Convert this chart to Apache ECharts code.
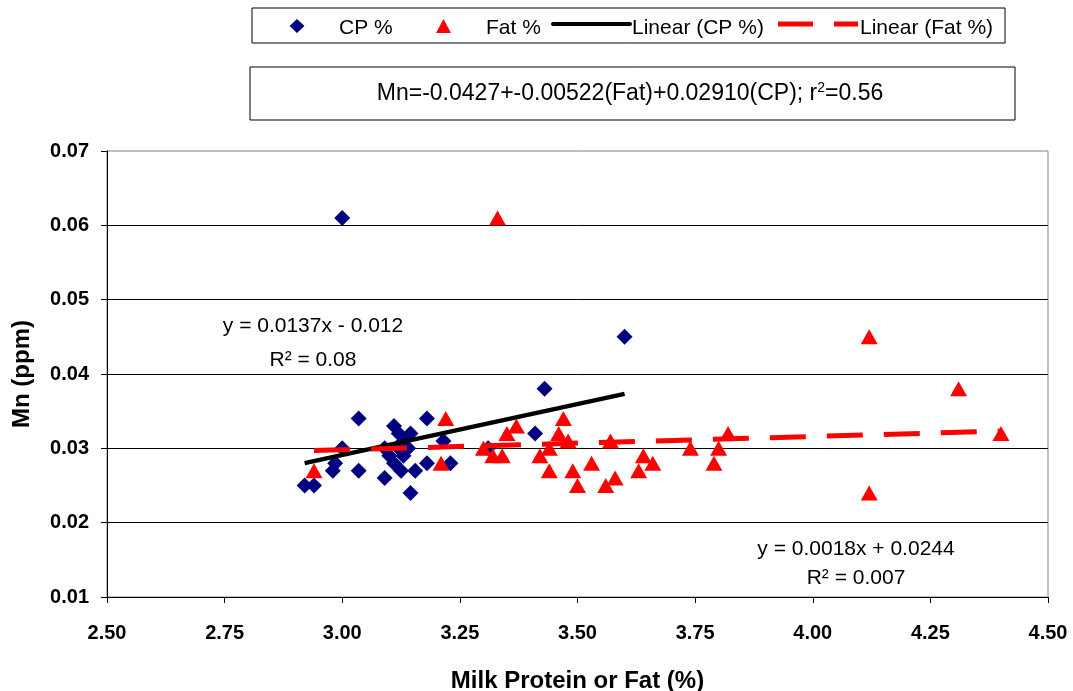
<!DOCTYPE html>
<html>
<head>
<meta charset="utf-8">
<script src="https://cdn.jsdelivr.net/npm/echarts@6/dist/echarts.min.js"></script>
<style>
  html, body { margin: 0; padding: 0; background: #fff; }
  #chart { width: 1073px; height: 691px; }
</style>
</head>
<body>
<div id="chart"></div>
<script>
/* Milk protein (CP %) vs Mn */
const cpPct = [3.00, 3.60, 3.43, 3.41, 2.92, 2.94, 2.98, 2.985, 3.00, 3.035, 3.035, 3.09, 3.10, 3.09, 3.11,
  3.12, 3.145, 3.13, 3.11, 3.13, 3.125, 3.155, 3.145, 3.18, 3.18, 3.215, 3.23, 3.31, 3.12, 3.14];
const cpMn = [0.061, 0.045, 0.038, 0.032, 0.025, 0.025, 0.027, 0.028, 0.030, 0.034, 0.027, 0.030, 0.029, 0.026, 0.033,
  0.032, 0.032, 0.031, 0.028, 0.029, 0.027, 0.027, 0.024, 0.034, 0.028, 0.031, 0.028, 0.030, 0.030, 0.030];

/* Milk fat (Fat %) vs Mn */
const fatPct = [3.33, 4.12, 4.31, 4.40, 4.12, 2.94, 3.22, 3.21, 3.30, 3.32, 3.34, 3.35, 3.37, 3.42, 3.44, 3.44,
  3.47, 3.46, 3.48, 3.49, 3.50, 3.53, 3.57, 3.56, 3.58, 3.64, 3.66, 3.63, 3.74, 3.82, 3.80, 3.79];
const fatMn = [0.061, 0.045, 0.038, 0.032, 0.024, 0.027, 0.034, 0.028, 0.030, 0.029, 0.029, 0.032, 0.033, 0.029, 0.030, 0.027,
  0.034, 0.032, 0.031, 0.027, 0.025, 0.028, 0.031, 0.025, 0.026, 0.029, 0.028, 0.027, 0.030, 0.032, 0.030, 0.028];

/* trendline coefficients [slope, intercept] */
const cpTrend = [0.0137, -0.012];
const fatTrend = [0.0018, 0.0244];

const xTicks = [2.50, 2.75, 3.00, 3.25, 3.50, 3.75, 4.00, 4.25, 4.50];
const yTicks = [0.01, 0.02, 0.03, 0.04, 0.05, 0.06, 0.07];

const FONT = '"Liberation Sans", Arial, sans-serif';

function zip(xs, ys) {
  return xs.map((x, i) => [x, ys[i]]);
}

function trendLine(xs, coef) {
  const lo = Math.min(...xs);
  const hi = Math.max(...xs);
  return [[lo, coef[0] * lo + coef[1]], [hi, coef[0] * hi + coef[1]]];
}

function label(x, y, text, size, align) {
  return {
    type: 'text', x: x, y: y, z: 10,
    style: { text: text, font: size + 'px ' + FONT, fill: '#000', align: align || 'left', verticalAlign: 'middle' }
  };
}

const chart = echarts.init(document.getElementById('chart'), null, { renderer: 'canvas' });

chart.setOption({
  backgroundColor: '#fff',
  animation: false,
  textStyle: { fontFamily: FONT },
  grid: {
    left: 107, right: 25, top: 151, bottom: 94,
    outerBoundsMode: 'none', containLabel: false,
    show: true, borderColor: '#808080', borderWidth: 1, backgroundColor: 'transparent'
  },
  xAxis: {
    type: 'value',
    min: xTicks[0], max: xTicks[xTicks.length - 1], interval: 0.25,
    name: 'Milk Protein or Fat (%)',
    nameLocation: 'middle', nameGap: 72,
    nameTextStyle: { fontFamily: FONT, fontSize: 24, fontWeight: 'bold', color: '#000' },
    axisLine: { show: true, lineStyle: { color: '#000', width: 1 } },
    axisTick: { show: true, length: 6, lineStyle: { color: '#000' } },
    axisLabel: {
      margin: 26, fontFamily: FONT, fontSize: 20, fontWeight: 'bold', color: '#000',
      formatter: (v) => v.toFixed(2)
    },
    splitLine: { show: false }
  },
  yAxis: {
    type: 'value',
    min: yTicks[0], max: yTicks[yTicks.length - 1], interval: 0.01,
    name: 'Mn (ppm)',
    nameLocation: 'middle', nameGap: 73,
    nameTextStyle: { fontFamily: FONT, fontSize: 24, fontWeight: 'bold', color: '#000' },
    axisLine: { show: true, lineStyle: { color: '#000', width: 1 } },
    axisTick: { show: true, length: 6, lineStyle: { color: '#000' } },
    axisLabel: {
      margin: 18, fontFamily: FONT, fontSize: 20, fontWeight: 'bold', color: '#000',
      formatter: (v) => v.toFixed(2)
    },
    splitLine: { show: true, showMinLine: false, showMaxLine: false, lineStyle: { color: '#000', width: 1 } }
  },
  series: [
    {
      name: 'CP %', type: 'scatter', symbol: 'diamond', symbolSize: [16, 16],
      itemStyle: { color: '#000080', opacity: 1 }, z: 2,
      data: zip(cpPct, cpMn)
    },
    {
      name: 'Fat %', type: 'scatter', symbol: 'triangle', symbolSize: [17, 15],
      itemStyle: { color: '#ff0000', opacity: 1 }, z: 3,
      data: zip(fatPct, fatMn)
    },
    {
      name: 'Linear (CP %)', type: 'line', showSymbol: false, symbol: 'none', z: 5,
      lineStyle: { color: '#000', width: 4.5 },
      data: trendLine(cpPct, cpTrend)
    },
    {
      name: 'Linear (Fat %)', type: 'line', showSymbol: false, symbol: 'none', z: 5,
      lineStyle: { color: '#ff0000', width: 5, type: [36, 21] },
      data: trendLine(fatPct, fatTrend)
    }
  ],
  graphic: [
    /* legend box */
    { type: 'rect', shape: { x: 252, y: 8, width: 753, height: 35 },
      style: { fill: '#fff', stroke: '#000', lineWidth: 1 } },
    { type: 'polygon', shape: { points: [[297, 19], [304.5, 26], [297, 33], [289.5, 26]] },
      style: { fill: '#000080' } },
    label(339, 28, 'CP %', 21),
    { type: 'polygon', shape: { points: [[443.5, 19], [451, 33], [436, 33]] },
      style: { fill: '#ff0000' } },
    label(486, 28, 'Fat %', 21),
    { type: 'line', shape: { x1: 553, y1: 24, x2: 630, y2: 24 },
      style: { stroke: '#000', lineWidth: 4, lineCap: 'round' } },
    label(632, 28, 'Linear (CP %)', 21),
    { type: 'line', shape: { x1: 778, y1: 24, x2: 813, y2: 24 },
      style: { stroke: '#ff0000', lineWidth: 5 } },
    { type: 'line', shape: { x1: 834, y1: 24, x2: 858, y2: 24 },
      style: { stroke: '#ff0000', lineWidth: 5 } },
    label(860, 28, 'Linear (Fat %)', 21),
    /* multiple regression box */
    { type: 'rect', shape: { x: 250, y: 67, width: 765, height: 53 },
      style: { fill: '#fff', stroke: '#000', lineWidth: 1 } },
    { type: 'text', x: 630, y: 94,
      style: {
        text: 'Mn=-0.0427+-0.00522(Fat)+0.02910(CP); r{sup|2}=0.56',
        font: '23px ' + FONT, fill: '#000', align: 'center', verticalAlign: 'middle',
        rich: { sup: { fontSize: 14, verticalAlign: 'top', padding: [0, 0, 12, 0], fontFamily: FONT } }
      } },
    /* trendline equations */
    label(313, 326, 'y = 0.0137x - 0.012', 21, 'center'),
    label(313, 360, 'R² = 0.08', 21, 'center'),
    label(856, 549, 'y = 0.0018x + 0.0244', 21, 'center'),
    label(856, 578, 'R² = 0.007', 21, 'center')
  ]
});
</script>
</body>
</html>
